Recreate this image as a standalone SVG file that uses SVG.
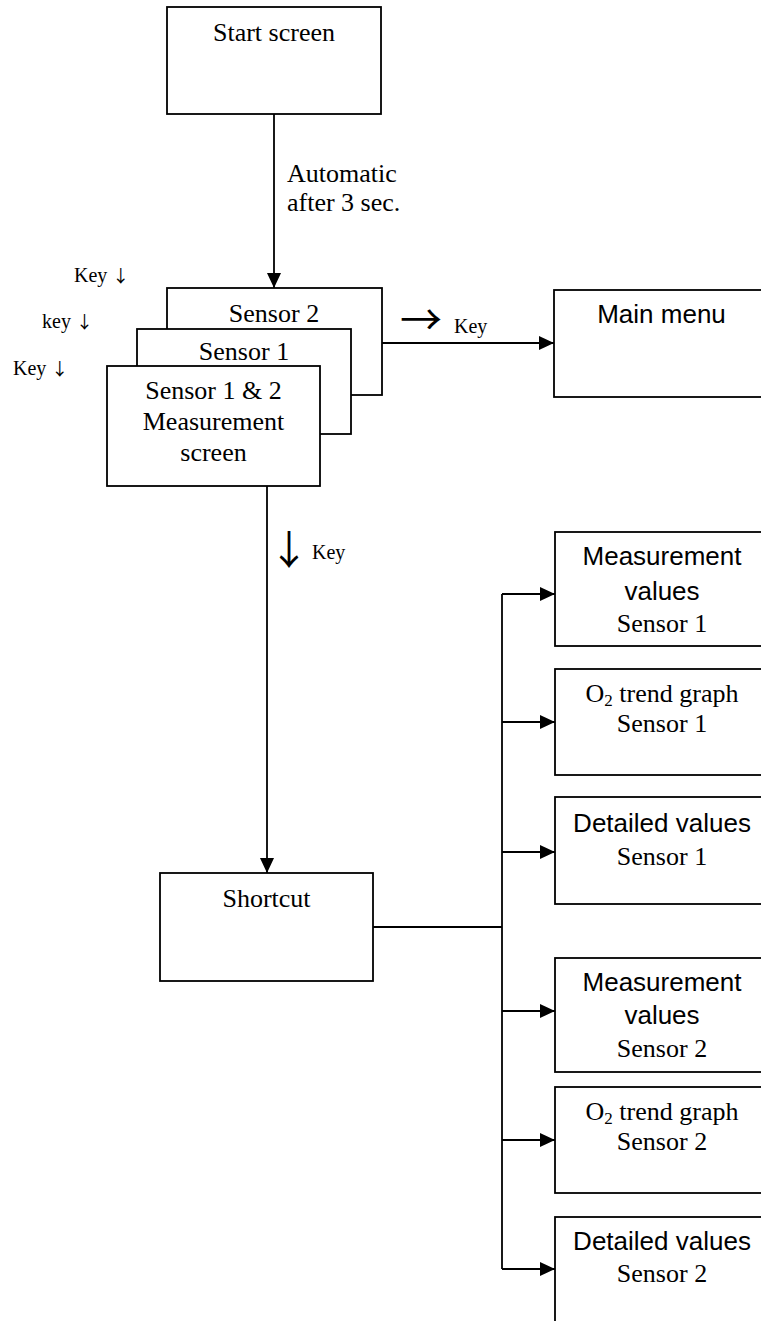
<svg xmlns="http://www.w3.org/2000/svg" width="761" height="1321" viewBox="0 0 761 1321">
<style>
.box{fill:#fff;stroke:#000;stroke-width:1.8}
.ln{fill:none;stroke:#000;stroke-width:1.8}
.se{font-family:"Liberation Serif","Times New Roman",serif;font-size:26px;fill:#000}
.sa{font-family:"Liberation Sans",Arial,sans-serif;font-size:26px;fill:#000}
.k{font-family:"Liberation Serif","Times New Roman",serif;font-size:20px;fill:#000}
.ar{font-family:"Noto Sans CJK JP","Noto Sans CJK SC",sans-serif}
.c{text-anchor:middle}
</style>
<defs>
<marker id="ah" markerUnits="userSpaceOnUse" markerWidth="16" markerHeight="14" refX="15" refY="7" orient="auto">
<path d="M0,0 L15,7 L0,14 Z" fill="#000"/>
</marker>
</defs>
<rect width="761" height="1321" fill="#fff"/>

<g id="connectors">
<line class="ln" x1="274" y1="114" x2="274" y2="288" marker-end="url(#ah)"/>
<line class="ln" x1="382" y1="343" x2="554" y2="343" marker-end="url(#ah)"/>
<line class="ln" x1="267" y1="486" x2="267" y2="873" marker-end="url(#ah)"/>
<polyline class="ln" points="373,927 502,927"/>
<line class="ln" x1="502" y1="594" x2="502" y2="1269"/>
<line class="ln" x1="502" y1="594" x2="555" y2="594" marker-end="url(#ah)"/>
<line class="ln" x1="502" y1="722" x2="555" y2="722" marker-end="url(#ah)"/>
<line class="ln" x1="502" y1="852" x2="555" y2="852" marker-end="url(#ah)"/>
<line class="ln" x1="502" y1="1011" x2="555" y2="1011" marker-end="url(#ah)"/>
<line class="ln" x1="502" y1="1140" x2="555" y2="1140" marker-end="url(#ah)"/>
<line class="ln" x1="502" y1="1269" x2="555" y2="1269" marker-end="url(#ah)"/>
<text class="se" x="287" y="182">Automatic</text>
<text class="se" x="287" y="211">after 3 sec.</text>
<text class="k" x="400" y="335"><tspan class="ar" font-size="42">→</tspan><tspan x="454" y="333">Key</tspan></text>
<text class="k" x="269" y="564"><tspan class="ar" font-size="40">↓</tspan><tspan x="312" y="559">Key</tspan></text>
<text class="k" x="74" y="282">Key <tspan class="ar" font-size="17">↓</tspan></text>
<text class="k" x="42" y="328">key <tspan class="ar" font-size="17">↓</tspan></text>
<text class="k" x="13" y="375">Key <tspan class="ar" font-size="17">↓</tspan></text>
</g>

<g id="start-screen">
<rect class="box" x="167" y="7" width="214" height="107"/>
<text class="se c" x="274" y="41">Start screen</text>
</g>

<g id="sensor2">
<rect class="box" x="167" y="288" width="215" height="107"/>
<text class="se c" x="274" y="322">Sensor 2</text>
</g>

<g id="sensor1">
<rect class="box" x="137" y="329" width="214" height="105"/>
<text class="se c" x="244" y="360">Sensor 1</text>
</g>

<g id="measurement-screen">
<rect class="box" x="107" y="366" width="213" height="120"/>
<text class="se c" x="213.5" y="399">Sensor 1 &amp; 2</text>
<text class="se c" x="213.5" y="430">Measurement</text>
<text class="se c" x="213.5" y="461">screen</text>
</g>

<g id="main-menu">
<rect class="box" x="554" y="290" width="215" height="107"/>
<text class="sa c" x="661.5" y="323">Main menu</text>
</g>

<g id="shortcut">
<rect class="box" x="160" y="873" width="213" height="108"/>
<text class="se c" x="266.5" y="907">Shortcut</text>
</g>

<g id="meas-values-s1">
<rect class="box" x="555" y="532" width="214" height="114"/>
<text class="sa c" x="662" y="565">Measurement</text>
<text class="sa c" x="662" y="600">values</text>
<text class="se c" x="662" y="632">Sensor 1</text>
</g>

<g id="trend-s1">
<rect class="box" x="555" y="669" width="214" height="106"/>
<text class="se c" x="662" y="702">O<tspan font-size="17" dy="4">2</tspan><tspan dy="-4"> trend graph</tspan></text>
<text class="se c" x="662" y="732">Sensor 1</text>
</g>

<g id="detailed-s1">
<rect class="box" x="555" y="797" width="214" height="107"/>
<text class="sa c" x="662" y="832">Detailed values</text>
<text class="se c" x="662" y="865">Sensor 1</text>
</g>

<g id="meas-values-s2">
<rect class="box" x="555" y="958" width="214" height="114"/>
<text class="sa c" x="662" y="991">Measurement</text>
<text class="sa c" x="662" y="1024">values</text>
<text class="se c" x="662" y="1057">Sensor 2</text>
</g>

<g id="trend-s2">
<rect class="box" x="555" y="1087" width="214" height="106"/>
<text class="se c" x="662" y="1120">O<tspan font-size="17" dy="4">2</tspan><tspan dy="-4"> trend graph</tspan></text>
<text class="se c" x="662" y="1150">Sensor 2</text>
</g>

<g id="detailed-s2">
<rect class="box" x="555" y="1217" width="214" height="115"/>
<text class="sa c" x="662" y="1250">Detailed values</text>
<text class="se c" x="662" y="1282">Sensor 2</text>
</g>
</svg>
